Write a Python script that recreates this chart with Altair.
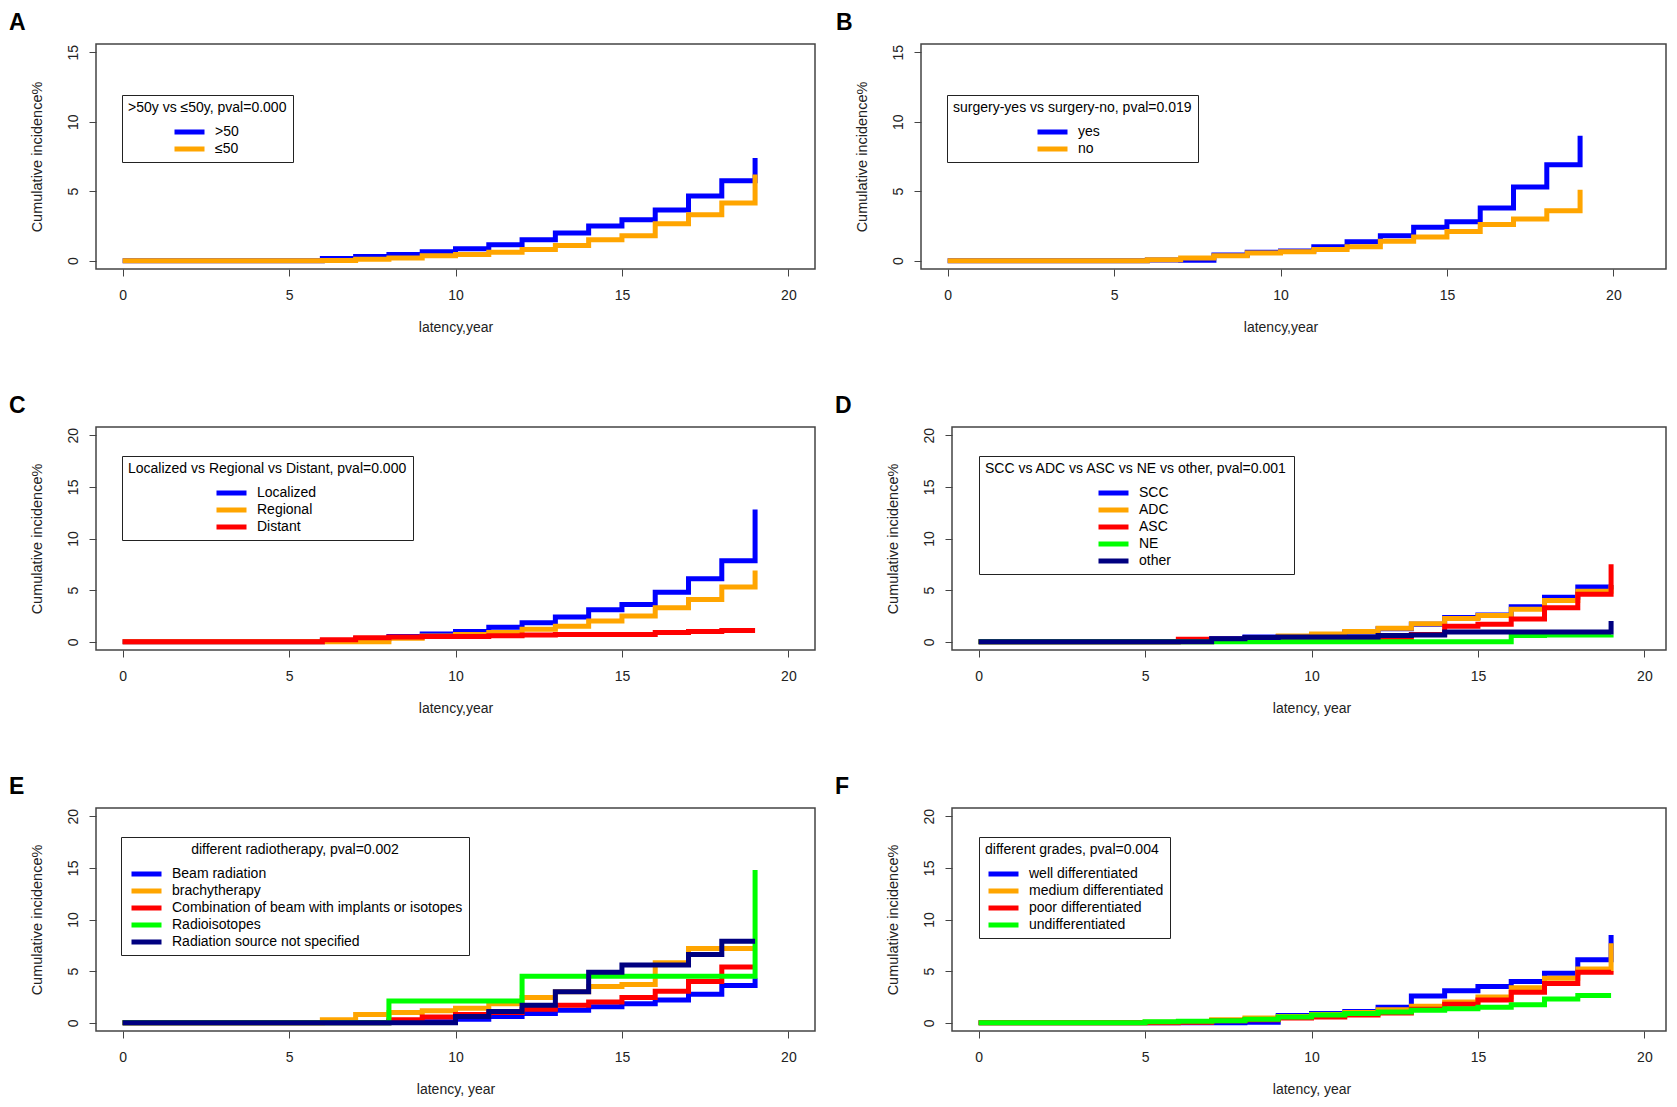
import altair as alt
import pandas as pd

years = list(range(20))

# ---------------- Panel A ----------------
a_title = ">50y vs ≤50y, pval=0.000"
a_cats = [">50", "≤50"]
a_colors = ["#0000FF", "#FFA500"]
a_gt50 = [0, 0, 0, 0, 0, 0, 0.15, 0.3, 0.45, 0.65, 0.85, 1.15, 1.5, 2.0, 2.5, 2.95, 3.65, 4.65, 5.75, 7.4]
a_le50 = [0, 0, 0, 0, 0, 0, 0.02, 0.1, 0.2, 0.35, 0.45, 0.6, 0.8, 1.1, 1.5, 1.8, 2.65, 3.3, 4.15, 6.2]

# ---------------- Panel B ----------------
b_title = "surgery-yes vs surgery-no, pval=0.019"
b_cats = ["yes", "no"]
b_colors = ["#0000FF", "#FFA500"]
b_yes = [0, 0, 0, 0, 0, 0, 0.05, 0.03, 0.4, 0.6, 0.7, 1.0, 1.37, 1.8, 2.4, 2.8, 3.8, 5.3, 6.9, 9.0]
b_no = [0, 0, 0, 0, 0, 0, 0.07, 0.2, 0.35, 0.55, 0.65, 0.8, 1.0, 1.4, 1.7, 2.1, 2.6, 3.0, 3.6, 5.1]

# ---------------- Panel C ----------------
c_title = "Localized vs Regional vs Distant, pval=0.000"
c_cats = ["Localized", "Regional", "Distant"]
c_colors = ["#0000FF", "#FFA500", "#FF0000"]
c_localized = [0, 0, 0, 0, 0, 0, 0.1, 0.3, 0.5, 0.75, 1.0, 1.4, 1.85, 2.4, 3.1, 3.6, 4.8, 6.1, 7.85, 12.8]
c_regional = [0, 0, 0, 0, 0, 0, 0, 0, 0.35, 0.55, 0.7, 0.9, 1.2, 1.5, 2.0, 2.5, 3.3, 4.1, 5.3, 6.9]
c_distant = [0, 0, 0, 0, 0, 0, 0.2, 0.38, 0.45, 0.5, 0.5, 0.58, 0.65, 0.7, 0.7, 0.7, 0.9, 1.0, 1.1, 1.1]

# ---------------- Panel D ----------------
d_title = "SCC vs ADC vs ASC vs NE vs other, pval=0.001"
d_cats = ["SCC", "ADC", "ASC", "NE", "other"]
d_colors = ["#0000FF", "#FFA500", "#FF0000", "#00FF00", "#000080"]
d_scc = [0, 0, 0, 0, 0, 0, 0.05, 0.3, 0.45, 0.5, 0.7, 0.95, 1.25, 1.7, 2.35, 2.6, 3.4, 4.3, 5.3, 5.5]
d_adc = [0, 0, 0, 0, 0, 0, 0, 0.1, 0.3, 0.55, 0.75, 1.0, 1.3, 1.75, 2.25, 2.55, 3.15, 4.0, 4.9, 5.5]
d_asc = [0, 0, 0, 0, 0, 0, 0.25, 0.25, 0.25, 0.25, 0.3, 0.3, 0.35, 0.7, 1.5, 1.7, 2.2, 3.3, 4.6, 7.5]
d_ne = [0, 0, 0, 0, 0, 0, 0, 0, 0, 0, 0, 0, 0, 0, 0, 0, 0.6, 0.65, 0.65, 0.7]
d_other = [0, 0, 0, 0, 0, 0, 0, 0.3, 0.4, 0.45, 0.45, 0.45, 0.6, 0.65, 0.95, 0.95, 0.95, 0.95, 0.95, 2.0]

# ---------------- Panel E ----------------
e_title = "different radiotherapy, pval=0.002"
e_cats = ["Beam radiation", "brachytherapy", "Combination of beam with implants or isotopes",
          "Radioisotopes", "Radiation source not specified"]
e_colors = ["#0000FF", "#FFA500", "#FF0000", "#00FF00", "#000080"]
e_beam = [0, 0, 0, 0, 0, 0, 0, 0, 0.1, 0.1, 0.35, 0.6, 0.9, 1.2, 1.55, 1.85, 2.2, 2.75, 3.6, 4.3]
e_brachy = [0, 0, 0, 0, 0, 0, 0.3, 0.8, 1.0, 1.15, 1.4, 1.85, 2.45, 3.0, 3.5, 3.7, 5.8, 7.2, 7.2, 7.2]
e_combo = [0, 0, 0, 0, 0, 0, 0, 0, 0.3, 0.55, 0.8, 1.0, 1.3, 1.7, 2.0, 2.45, 3.05, 4.0, 5.4, 5.4]
e_radio = [0, 0, 0, 0, 0, 0, 0, 0, 2.1, 2.1, 2.1, 2.1, 4.5, 4.5, 4.5, 4.5, 4.5, 4.5, 4.5, 14.8]
e_unspec = [0, 0, 0, 0, 0, 0, 0, 0, 0, 0, 0.6, 1.1, 1.7, 3.0, 4.9, 5.6, 5.6, 6.6, 7.9, 7.9]

# ---------------- Panel F ----------------
f_title = "different grades, pval=0.004"
f_cats = ["well differentiated", "medium differentiated", "poor differentiated", "undifferentiated"]
f_colors = ["#0000FF", "#FFA500", "#FF0000", "#00FF00"]
f_well = [0, 0, 0, 0, 0, 0, 0, 0, 0.05, 0.7, 0.9, 1.1, 1.5, 2.6, 3.1, 3.5, 4.0, 4.8, 6.1, 8.5]
f_medium = [0, 0, 0, 0, 0, 0.05, 0.1, 0.3, 0.45, 0.6, 0.8, 1.0, 1.25, 1.6, 2.0, 2.5, 3.4, 4.3, 5.2, 7.7]
f_poor = [0, 0, 0, 0, 0, 0, 0.05, 0.2, 0.3, 0.45, 0.55, 0.75, 0.95, 1.3, 1.8, 2.2, 2.95, 3.8, 4.9, 5.0]
f_undiff = [0, 0, 0, 0, 0, 0.1, 0.15, 0.2, 0.35, 0.55, 0.75, 0.9, 1.05, 1.2, 1.35, 1.5, 1.75, 2.3, 2.65, 2.65]

x_ticks = [0, 5, 10, 15, 20]
y_ticks_15 = [0, 5, 10, 15]
y_ticks_20 = [0, 5, 10, 15, 20]

FONT = "Liberation Sans, Arial, Helvetica, sans-serif"
PX_PER_YEAR = 719 / 21.6


def panel(letter, letter_dx, cats, colors, series, legend_title, xtitle,
          ydom, yticks, width, height, lx, ly, sym_off, tanchor):
    rows = []
    for c, vals in zip(cats, series):
        for t, v in zip(years, vals):
            rows.append({"t": t, "v": v, "s": c})
    df = pd.DataFrame(rows)
    xdom = [-0.8, -0.8 + width / PX_PER_YEAR]
    x10 = (10 - xdom[0]) / (xdom[1] - xdom[0]) * width
    return (
        alt.Chart(df)
        .mark_line(interpolate="step-after", strokeWidth=5, clip=True)
        .encode(
            x=alt.X("t:Q",
                    scale=alt.Scale(domain=xdom, nice=False, zero=False),
                    axis=alt.Axis(values=x_ticks, title=xtitle, titleX=x10, titleY=58,
                                  titleAlign="center", titleBaseline="middle",
                                  titleFont=FONT, titleFontSize=14,
                                  labelFont=FONT, labelFontSize=14, labelPadding=12,
                                  labelFlush=False, labelOverlap=False)),
            y=alt.Y("v:Q",
                    scale=alt.Scale(domain=ydom, nice=False, zero=False),
                    axis=alt.Axis(values=yticks, title="Cumulative incidence%",
                                  titleAngle=270, titleX=-59, titleY=height / 2,
                                  titleAlign="center", titleBaseline="middle",
                                  titleFont=FONT, titleFontSize=14.5,
                                  labelAngle=270, labelAlign="center", labelBaseline="bottom",
                                  labelFont=FONT, labelFontSize=14, labelPadding=9,
                                  labelOverlap=False)),
            color=alt.Color("s:N",
                            scale=alt.Scale(domain=cats, range=colors),
                            legend=alt.Legend(
                                orient="none", legendX=lx, legendY=ly,
                                title=legend_title, titleFont=FONT, titleFontSize=14,
                                titleFontWeight="normal", titleColor="black",
                                titleAnchor=tanchor, titlePadding=10, titleLimit=700,
                                labelFont=FONT, labelFontSize=14, labelColor="black",
                                labelLimit=700, labelOffset=8, symbolOffset=sym_off,
                                symbolType="stroke", symbolSize=900, symbolStrokeWidth=5,
                                clipHeight=14, rowPadding=3, padding=6,
                                strokeColor="#222", fillColor="white",
                                direction="vertical")),
        )
        .properties(
            width=width, height=height,
            title=alt.TitleParams(text=letter, anchor="start", frame="group", dx=letter_dx,
                                  dy=24, offset=15, fontSize=23, fontWeight="bold", font=FONT,
                                  color="black", baseline="alphabetic"),
        )
    )


pA = panel("A", -87, a_cats, a_colors, [a_gt50, a_le50], a_title, "latency,year",
           [-0.6, 15.6], y_ticks_15, 719, 225, 26, 51, 44, "start")
pB = panel("B", -85, b_cats, b_colors, [b_yes, b_no], b_title, "latency,year",
           [-0.6, 15.6], y_ticks_15, 745, 225, 26, 51, 82, "start")
pC = panel("C", -87, c_cats, c_colors, [c_localized, c_regional, c_distant], c_title, "latency,year",
           [-0.8, 20.8], y_ticks_20, 719, 223, 26, 29, 86, "start")
pD = panel("D", -117, d_cats, d_colors, [d_scc, d_adc, d_asc, d_ne, d_other], d_title, "latency, year",
           [-0.8, 20.8], y_ticks_20, 714, 223, 27, 29, 111, "start")
pE = panel("E", -87, e_cats, e_colors, [e_beam, e_brachy, e_combo, e_radio, e_unspec], e_title,
           "latency, year", [-0.8, 20.8], y_ticks_20, 719, 223, 25, 29, 2, "middle")
pF = panel("F", -117, f_cats, f_colors, [f_well, f_medium, f_poor, f_undiff], f_title,
           "latency, year", [-0.8, 20.8], y_ticks_20, 714, 223, 27, 29, 1, "start")


def row(left, right, gap):
    return (
        alt.hconcat(left, right, spacing=gap, bounds="flush")
        .resolve_scale(x="independent", y="independent", color="independent")
        .resolve_legend(color="independent")
    )


chart = (
    alt.vconcat(row(pA, pB, 106), row(pC, pD, 137), row(pE, pF, 137), spacing=59)
    .resolve_scale(x="independent", y="independent", color="independent")
    .resolve_legend(color="independent")
    .properties(padding={"top": 3, "left": 0, "right": 0, "bottom": 0}, background="white")
    .configure_view(stroke="#444", strokeWidth=1.5)
    .configure_axis(domain=False, grid=False, tickColor="#444", tickSize=7, tickWidth=1,
                    labelColor="#222", titleColor="#222", titleFontWeight="normal")
)

chart.save("out.html", embed_options={"renderer": "svg", "actions": False})
